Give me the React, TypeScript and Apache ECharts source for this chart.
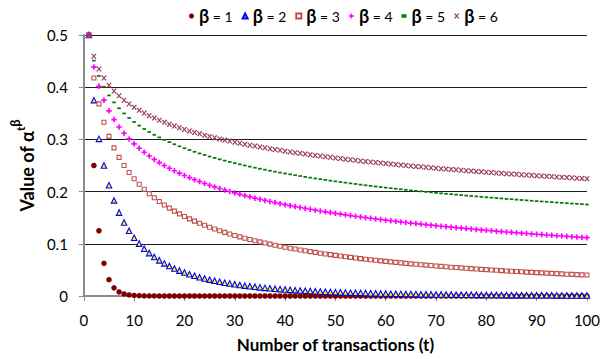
import React, { useEffect, useRef } from "react";
import * as echarts from "echarts";

const seriesNames = ["β = 1", "β = 2", "β = 3", "β = 4", "β = 5", "β = 6"];

const beta1 = [
  0.5, 0.25, 0.125, 0.0625, 0.0313, 0.0156, 0.0078, 0.0039, 0.002, 0.001,
  0.0005, 0.0002, 0.0001, 0.0001, 0, 0, 0, 0, 0, 0,
  0, 0, 0, 0, 0, 0, 0, 0, 0, 0,
  0, 0, 0, 0, 0, 0, 0, 0, 0, 0,
  0, 0, 0, 0, 0, 0, 0, 0, 0, 0,
  0, 0, 0, 0, 0, 0, 0, 0, 0, 0,
  0, 0, 0, 0, 0, 0, 0, 0, 0, 0,
  0, 0, 0, 0, 0, 0, 0, 0, 0, 0,
  0, 0, 0, 0, 0, 0, 0, 0, 0, 0,
  0, 0, 0, 0, 0, 0, 0, 0, 0, 0,
];

const beta2 = [
  0.5, 0.3752, 0.301, 0.25, 0.2122, 0.1831, 0.1598, 0.1408, 0.125, 0.1117,
  0.1004, 0.0906, 0.0822, 0.0748, 0.0683, 0.0625, 0.0574, 0.0528, 0.0487, 0.0451,
  0.0417, 0.0387, 0.036, 0.0335, 0.0313, 0.0292, 0.0273, 0.0255, 0.0239, 0.0224,
  0.0211, 0.0198, 0.0187, 0.0176, 0.0166, 0.0156, 0.0148, 0.0139, 0.0132, 0.0125,
  0.0118, 0.0112, 0.0106, 0.0101, 0.0096, 0.0091, 0.0086, 0.0082, 0.0078, 0.0074,
  0.0071, 0.0067, 0.0064, 0.0061, 0.0059, 0.0056, 0.0053, 0.0051, 0.0049, 0.0047,
  0.0045, 0.0043, 0.0041, 0.0039, 0.0037, 0.0036, 0.0034, 0.0033, 0.0032, 0.003,
  0.0029, 0.0028, 0.0027, 0.0026, 0.0025, 0.0024, 0.0023, 0.0022, 0.0021, 0.002,
  0.002, 0.0019, 0.0018, 0.0017, 0.0017, 0.0016, 0.0016, 0.0015, 0.0014, 0.0014,
  0.0013, 0.0013, 0.0013, 0.0012, 0.0012, 0.0011, 0.0011, 0.001, 0.001, 0.001,
];

const beta3 = [
  0.5, 0.4175, 0.368, 0.3328, 0.3057, 0.2838, 0.2656, 0.25, 0.2365, 0.2246,
  0.214, 0.2046, 0.196, 0.1881, 0.181, 0.1744, 0.1683, 0.1626, 0.1573, 0.1524,
  0.1478, 0.1434, 0.1393, 0.1354, 0.1318, 0.1283, 0.125, 0.1219, 0.1189, 0.116,
  0.1133, 0.1107, 0.1083, 0.1059, 0.1036, 0.1014, 0.0993, 0.0973, 0.0953, 0.0934,
  0.0916, 0.0899, 0.0882, 0.0866, 0.085, 0.0835, 0.082, 0.0805, 0.0792, 0.0778,
  0.0765, 0.0752, 0.074, 0.0728, 0.0716, 0.0705, 0.0694, 0.0684, 0.0673, 0.0663,
  0.0653, 0.0644, 0.0634, 0.0625, 0.0616, 0.0607, 0.0599, 0.0591, 0.0583, 0.0575,
  0.0567, 0.0559, 0.0552, 0.0545, 0.0538, 0.0531, 0.0524, 0.0517, 0.0511, 0.0505,
  0.0498, 0.0492, 0.0486, 0.048, 0.0475, 0.0469, 0.0464, 0.0458, 0.0453, 0.0448,
  0.0443, 0.0438, 0.0433, 0.0428, 0.0423, 0.0418, 0.0414, 0.0409, 0.0405, 0.0401,
];

const beta4 = [
  0.5, 0.4386, 0.4017, 0.3752, 0.3547, 0.338, 0.3238, 0.3117, 0.301, 0.2915,
  0.283, 0.2753, 0.2682, 0.2617, 0.2556, 0.25, 0.2448, 0.2399, 0.2353, 0.2309,
  0.2268, 0.2229, 0.2192, 0.2156, 0.2122, 0.209, 0.206, 0.203, 0.2002, 0.1975,
  0.1948, 0.1923, 0.1899, 0.1875, 0.1853, 0.1831, 0.181, 0.1789, 0.1769, 0.175,
  0.1731, 0.1713, 0.1695, 0.1678, 0.1661, 0.1645, 0.1629, 0.1613, 0.1598, 0.1583,
  0.1569, 0.1555, 0.1541, 0.1527, 0.1514, 0.1501, 0.1489, 0.1477, 0.1465, 0.1453,
  0.1441, 0.143, 0.1419, 0.1408, 0.1397, 0.1387, 0.1377, 0.1366, 0.1357, 0.1347,
  0.1337, 0.1328, 0.1319, 0.1309, 0.1301, 0.1292, 0.1283, 0.1275, 0.1266, 0.1258,
  0.125, 0.1242, 0.1234, 0.1226, 0.1219, 0.1211, 0.1204, 0.1197, 0.119, 0.1183,
  0.1176, 0.1169, 0.1162, 0.1155, 0.1149, 0.1142, 0.1136, 0.1129, 0.1123, 0.1117,
];

const beta5 = [
  0.5, 0.451, 0.4217, 0.4007, 0.3843, 0.3709, 0.3596, 0.3497, 0.3411, 0.3333,
  0.3264, 0.32, 0.3142, 0.3088, 0.3038, 0.2992, 0.2948, 0.2907, 0.2868, 0.2831,
  0.2796, 0.2763, 0.2731, 0.2701, 0.2672, 0.2645, 0.2618, 0.2593, 0.2568, 0.2545,
  0.2522, 0.25, 0.2479, 0.2458, 0.2438, 0.2419, 0.24, 0.2381, 0.2364, 0.2347,
  0.233, 0.2314, 0.2298, 0.2282, 0.2267, 0.2252, 0.2238, 0.2224, 0.221, 0.2197,
  0.2183, 0.2171, 0.2158, 0.2146, 0.2133, 0.2121, 0.211, 0.2098, 0.2087, 0.2076,
  0.2066, 0.2055, 0.2045, 0.2034, 0.2024, 0.2014, 0.2005, 0.1995, 0.1986, 0.1976,
  0.1967, 0.1958, 0.195, 0.1941, 0.1933, 0.1924, 0.1916, 0.1908, 0.19, 0.1892,
  0.1884, 0.1876, 0.1869, 0.1861, 0.1854, 0.1846, 0.1839, 0.1832, 0.1825, 0.1818,
  0.1811, 0.1805, 0.1798, 0.1791, 0.1785, 0.1778, 0.1772, 0.1766, 0.176, 0.1753,
];

const beta6 = [
  0.5, 0.4593, 0.435, 0.4175, 0.4039, 0.3928, 0.3834, 0.3752, 0.368, 0.3615,
  0.3557, 0.3504, 0.3455, 0.3409, 0.3367, 0.3328, 0.3291, 0.3256, 0.3223, 0.3192,
  0.3162, 0.3134, 0.3107, 0.3081, 0.3057, 0.3033, 0.301, 0.2988, 0.2967, 0.2947,
  0.2927, 0.2908, 0.289, 0.2872, 0.2855, 0.2838, 0.2822, 0.2806, 0.279, 0.2775,
  0.2761, 0.2746, 0.2733, 0.2719, 0.2706, 0.2693, 0.268, 0.2668, 0.2656, 0.2644,
  0.2632, 0.2621, 0.261, 0.2599, 0.2588, 0.2577, 0.2567, 0.2557, 0.2547, 0.2537,
  0.2528, 0.2519, 0.2509, 0.25, 0.2491, 0.2482, 0.2474, 0.2465, 0.2457, 0.2448,
  0.244, 0.2432, 0.2425, 0.2417, 0.2409, 0.2401, 0.2394, 0.2386, 0.2379, 0.2372,
  0.2365, 0.2358, 0.2351, 0.2344, 0.2338, 0.2331, 0.2324, 0.2318, 0.2312, 0.2305,
  0.2299, 0.2293, 0.2287, 0.2281, 0.2275, 0.2269, 0.2263, 0.2257, 0.2252, 0.2246,
];

const allSeries = [beta1, beta2, beta3, beta4, beta5, beta6];

const FONT = "Lato, 'Noto Sans', sans-serif";

const PLUS = "path://M3.5,0H6.5V3.5H10V6.5H6.5V10H3.5V6.5H0V3.5H3.5Z";
const DASH = "path://M0,0H10V7H0Z";
const XMARK =
  "path://M0,0L2.5,0L5,3.6L7.5,0L10,0L10,1.2L6.3,5L10,8.8L10,10L7.5,10L5,6.4L2.5,10L0,10L0,8.8L3.7,5L0,1.2Z";

const styles = [
  { symbol: "circle", size: 5.5, color: "#7b0000", border: "#7b0000", bw: 0, keep: false },
  { symbol: "triangle", size: 5.5, color: "#ffff00", border: "#0000ff", bw: 1.1, keep: false },
  { symbol: "rect", size: 4, color: "#ffffff", border: "#c0504d", bw: 1.1, keep: false },
  { symbol: PLUS, size: 5.5, color: "#ff00ff", border: "#ff00ff", bw: 0, keep: false },
  { symbol: DASH, size: [3.6, 2.5], color: "#007a00", border: "#007a00", bw: 0, keep: true },
  { symbol: XMARK, size: 5, color: "#953564", border: "#953564", bw: 0, keep: false },
];

export default function App() {
  const ref = useRef<HTMLDivElement>(null);
  useEffect(() => {
    if (!ref.current) return;
    const chart = echarts.init(ref.current, null, { renderer: "svg" });
    const series = allSeries.map((vals, si) => ({
      name: seriesNames[si],
      type: "scatter",
      symbol: styles[si].symbol,
      symbolSize: styles[si].size,
      symbolKeepAspect: styles[si].keep,
      itemStyle: {
        color: styles[si].color,
        borderColor: styles[si].border,
        borderWidth: styles[si].bw,
        opacity: 1,
      },
      emphasis: { disabled: true },
      data: vals.map((v, i) => [i + 1, v]),
    }));
    chart.setOption({
      animation: false,
      backgroundColor: "#ffffff",
      textStyle: { fontFamily: FONT },
      legend: {
        top: 2,
        left: 184,
        itemWidth: 5,
        itemHeight: 5,
        itemGap: 9,
        data: seriesNames,
        formatter: (name: string) => `{b|β}{n|${name.slice(1)}}`,
        textStyle: {
          color: "#000",
          rich: {
            b: { fontSize: 18, fontWeight: "bold", fontFamily: FONT, color: "#000" },
            n: { fontSize: 14, fontFamily: FONT, color: "#000" },
          },
        },
      },
      grid: { left: 75, right: 16, top: 35, bottom: 63, containLabel: false },
      xAxis: {
        type: "value",
        min: 0,
        max: 100,
        interval: 10,
        name: "Number of transactions (t)",
        nameLocation: "middle",
        nameGap: 40,
        nameTextStyle: { fontSize: 17, fontWeight: "bold", color: "#000", fontFamily: FONT },
        axisLine: { lineStyle: { color: "#8c8c8c", width: 2 } },
        axisTick: { show: true, inside: false, length: 5, lineStyle: { color: "#8c8c8c" } },
        axisLabel: { fontSize: 15, color: "#000", margin: 16, fontFamily: FONT },
        splitLine: { show: false },
      },
      yAxis: {
        type: "value",
        min: 0,
        max: 0.5,
        interval: 0.1,
        name: "{a|Value of α}{t|t}{b|β}",
        nameLocation: "middle",
        nameRotate: 90,
        nameGap: 38,
        nameTextStyle: {
          rich: {
            a: { fontSize: 18, fontWeight: "bold", color: "#000", fontFamily: FONT, lineHeight: 28, verticalAlign: "bottom" },
            t: { fontSize: 12, fontWeight: "bold", color: "#000", fontFamily: FONT, verticalAlign: "top", padding: [6, 0, 0, 0] },
            b: { fontSize: 13, fontWeight: "bold", color: "#000", fontFamily: FONT, verticalAlign: "top" },
          },
        },
        axisLine: { show: true, lineStyle: { color: "#8c8c8c", width: 2 } },
        axisTick: { show: true, inside: false, length: 5, lineStyle: { color: "#8c8c8c" } },
        axisLabel: { fontSize: 15, color: "#000", margin: 16, fontFamily: FONT },
        splitLine: { show: true, lineStyle: { color: "#1e1e1e", width: 1 } },
      },
      series,
    });
    return () => chart.dispose();
  }, []);
  return (
    <div
      ref={ref}
      style={{ position: "fixed", left: 0, top: 0, width: 603, height: 359 }}
    />
  );
}
